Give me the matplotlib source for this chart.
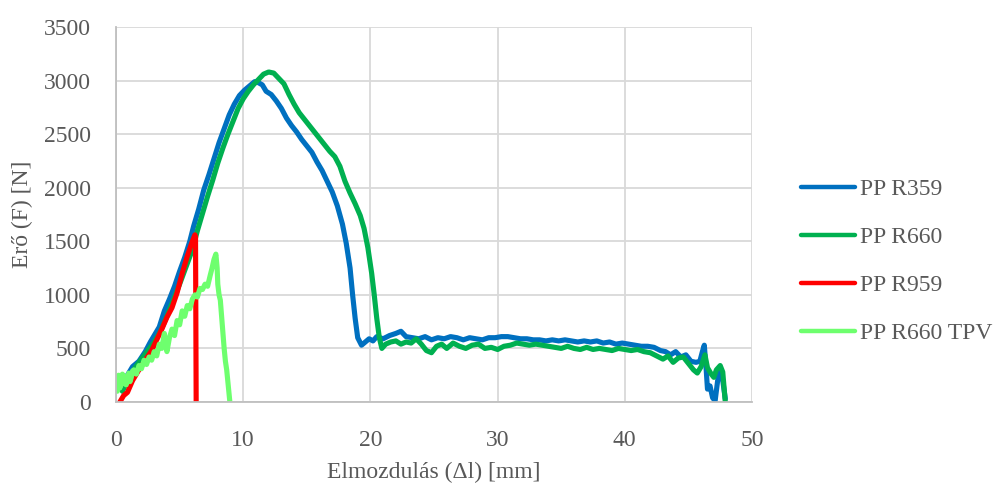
import matplotlib.pyplot as plt

# PP R359
x_r359 = [0.4, 0.8, 1.3, 1.8, 2.3, 2.7, 3.0, 3.4, 3.8, 4.2, 4.6, 5.0, 5.4, 5.8, 6.1, 6.5, 6.9, 7.3, 7.7, 8.1,
          8.5, 8.9, 9.3, 9.7, 10.1, 10.5, 10.9, 11.2, 11.5, 11.8, 12.2, 12.6, 13.0, 13.4, 13.8, 14.2, 14.6, 15.0,
          15.4, 15.8, 16.2, 16.6, 17.0, 17.4, 17.8, 18.1, 18.4, 18.6, 18.8, 19.0, 19.3, 19.6, 19.9, 20.2, 20.5,
          21.0, 21.5, 22.0, 22.4, 22.8, 23.3, 23.8, 24.3, 24.8, 25.3, 25.8, 26.3, 26.8, 27.3, 27.8, 28.3, 28.8,
          29.3, 29.8, 30.3, 30.8, 31.3, 31.8, 32.3, 32.8, 33.3, 33.8, 34.3, 34.8, 35.3, 35.8, 36.3, 36.8, 37.3,
          37.8, 38.3, 38.8, 39.3, 39.8, 40.3, 40.8, 41.3, 41.8, 42.3, 42.8, 43.2, 43.6, 44.0, 44.4, 44.8, 45.2,
          45.6, 45.9, 46.1, 46.25, 46.4, 46.5, 46.7, 46.9, 47.1, 47.3, 47.5, 47.7, 47.9]
y_r359 = [120, 230, 330, 380, 470, 560, 620, 700, 850, 960, 1080, 1220, 1350, 1500, 1640, 1800, 1980, 2120, 2270, 2420,
          2550, 2680, 2780, 2860, 2910, 2950, 2990, 2980, 2960, 2900, 2870, 2810, 2740, 2650, 2580, 2520, 2450, 2390,
          2330, 2240, 2160, 2060, 1960, 1830, 1660, 1480, 1250, 1000, 780, 600, 530, 560, 590, 570, 610,
          590, 620, 640, 660, 610, 600, 590, 610, 580, 600, 590, 610, 600, 580, 600, 590, 580,
          600, 600, 610, 610, 600, 590, 590, 580, 580, 570, 580, 570, 580, 570, 560, 570, 560,
          570, 550, 560, 540, 550, 540, 530, 520, 520, 510, 480, 470, 440, 470, 420, 440, 380,
          370, 380, 470, 530, 300, 120, 150, 40, 10, 200, 320, 200, 30]

# PP R660
x_r660 = [0.5, 1.0, 1.5, 2.0, 2.5, 3.0, 3.5, 4.0, 4.5, 5.0, 5.5, 6.0, 6.4, 6.8, 7.2, 7.6, 8.0, 8.4, 8.8, 9.2,
          9.6, 10.0, 10.4, 10.8, 11.2, 11.6, 12.0, 12.4, 12.8, 13.2, 13.6, 14.0, 14.4, 14.8, 15.2, 15.6, 16.0,
          16.4, 16.8, 17.2, 17.6, 18.0, 18.4, 18.8, 19.2, 19.5, 19.8, 20.1, 20.3, 20.5, 20.7, 20.9, 21.2, 21.6,
          22.0, 22.4, 22.8, 23.2, 23.6, 24.0, 24.4, 24.8, 25.2, 25.6, 26.0, 26.5, 27.0, 27.5, 28.0, 28.5, 29.0,
          29.5, 30.0, 30.5, 31.0, 31.5, 32.0, 32.5, 33.0, 33.5, 34.0, 34.5, 35.0, 35.5, 36.0, 36.5, 37.0, 37.5,
          38.0, 38.5, 39.0, 39.5, 40.0, 40.5, 41.0, 41.5, 42.0, 42.5, 43.0, 43.4, 43.8, 44.2, 44.6, 45.0, 45.4,
          45.7, 46.0, 46.3, 46.5, 46.8, 47.0, 47.2, 47.5, 47.7, 47.9]
y_r660 = [100, 220, 320, 400, 480, 560, 660, 800, 950, 1100, 1260, 1420, 1600, 1760, 1920, 2070, 2230, 2370, 2500, 2620,
          2740, 2830, 2900, 2960, 3010, 3060, 3080, 3070, 3020, 2970, 2870, 2780, 2700, 2640, 2580, 2520, 2460,
          2400, 2340, 2290, 2200, 2060, 1950, 1850, 1740, 1620, 1440, 1200, 1000, 780, 600, 500, 540, 560,
          570, 540, 560, 550, 590, 540, 480, 460, 520, 540, 500, 550, 520, 500, 530, 540, 500,
          510, 490, 520, 530, 550, 540, 530, 540, 530, 520, 510, 500, 520, 500, 490, 510, 490,
          500, 490, 480, 500, 490, 480, 490, 470, 460, 430, 400, 430, 370, 410, 420, 360, 300,
          270, 330, 440, 320, 260, 230, 300, 340, 280, 0]

# PP R959
x_r959 = [0.3, 0.6, 0.9, 1.3, 1.8, 2.3, 2.8, 3.2, 3.6, 4.0, 4.4, 4.8, 5.2, 5.6, 6.0, 6.2, 6.25, 6.3]
y_r959 = [0, 60, 90, 200, 300, 390, 480, 580, 680, 790, 880, 1020, 1200, 1360, 1500, 1560, 1540, 0]

# PP R660 TPV
x_tpv = [0.05, 0.1, 0.2, 0.3, 0.4, 0.5, 0.6, 0.7, 0.8, 0.9, 1.0, 1.1, 1.2, 1.3, 1.4, 1.6, 1.8, 2.0, 2.2, 2.4,
         2.6, 2.8, 3.0, 3.2, 3.4, 3.6, 3.8, 4.0, 4.2, 4.4, 4.6, 4.8, 5.0, 5.2, 5.4, 5.6, 5.8, 6.0, 6.2, 6.4,
         6.6, 6.8, 7.0, 7.2, 7.4, 7.55, 7.7, 7.85, 7.95, 8.0, 8.1, 8.2, 8.3, 8.4, 8.5, 8.6, 8.7, 8.8, 8.9, 8.95]
y_tpv = [230, 100, 250, 130, 180, 260, 170, 240, 160, 210, 270, 190, 230, 290, 300, 260, 340, 310, 390, 350,
         420, 390, 470, 430, 540, 500, 640, 470, 600, 680, 620, 760, 720, 850, 800, 900, 870, 960, 1000, 980,
         1060, 1050, 1100, 1080, 1180, 1250, 1330, 1380, 1250, 1100, 1000, 950, 800, 650, 500, 380, 300, 180, 60, 0]

plt.rcParams['font.family'] = ['Liberation Serif', 'DejaVu Serif']
txt = '#595959'

fig = plt.figure(figsize=(10.02, 4.91), dpi=100)
ax = fig.add_axes([0.1158, 0.1813, 0.6347, 0.7637])

ax.plot(x_r359, y_r359, color='#0070C0', lw=3.7, label='PP R359', solid_capstyle='round')
ax.plot(x_r660, y_r660, color='#00B050', lw=3.7, label='PP R660', solid_capstyle='round')
ax.plot(x_r959, y_r959, color='#FF0000', lw=3.7, label='PP R959', solid_capstyle='round')
ax.plot(x_tpv, y_tpv, color='#6EFF6E', lw=3.7, label='PP R660 TPV', solid_capstyle='round')

ax.set_xlim(0, 50)
ax.set_ylim(0, 3500)
ax.set_xticks(range(0, 51, 10))
ax.set_yticks(range(0, 3501, 500))
ax.grid(True, color='#D9D9D9', lw=1.3)
ax.set_axisbelow(True)
for s in ['top', 'right']:
    ax.spines[s].set_visible(False)
for s in ['left', 'bottom']:
    ax.spines[s].set_color('#BFBFBF')
    ax.spines[s].set_linewidth(1.3)
ax.tick_params(length=0, labelsize=17, colors=txt)
ax.tick_params(axis='y', pad=18)
ax.tick_params(axis='x', pad=20)

ax.set_xlabel('Elmozdulás (Δl) [mm]', fontsize=17, color=txt, labelpad=8)
ax.set_ylabel('Erő (F) [N]', fontsize=17, color=txt, labelpad=8)

leg = ax.legend(loc='center left', bbox_to_anchor=(0.79, 0.468), bbox_transform=fig.transFigure,
                frameon=False, fontsize=17, handlelength=2.3, handletextpad=0.2, labelspacing=1.12,
                borderaxespad=0)
for t in leg.get_texts():
    t.set_color(txt)
for h in leg.get_lines():
    h.set_linewidth(3.2)

fig.savefig('out.png', dpi=100)
